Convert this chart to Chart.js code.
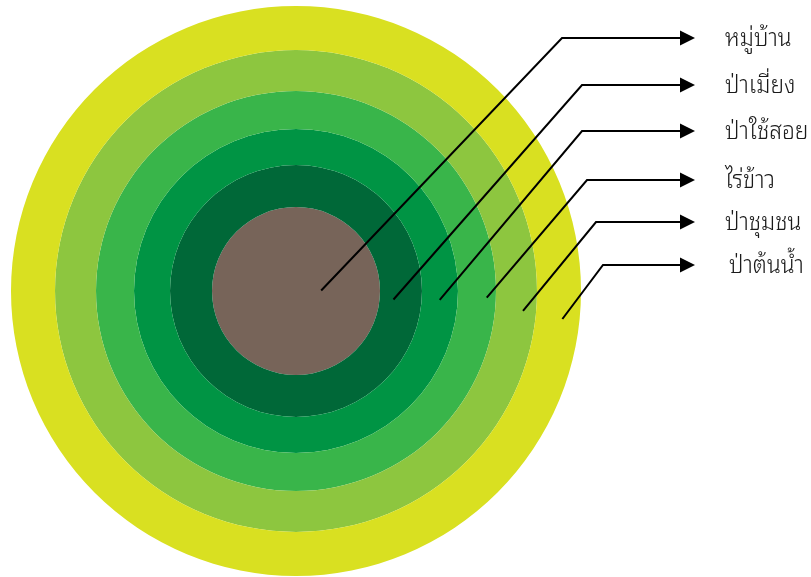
<!DOCTYPE html>
<html>
<head>
<meta charset="utf-8">
<script src="https://cdn.jsdelivr.net/npm/chart.js@4.4.0/dist/chart.umd.min.js"></script>
<style>
  html, body { margin: 0; padding: 0; background: #fff; }
  #wrap { width: 811px; height: 577px; position: relative; }
</style>
</head>
<body>
<div id="wrap"><canvas id="zoneChart"></canvas></div>
<script>
// zones, from the centre outwards (label order top to bottom)
const zoneLabels = ['หมู่บ้าน', 'ป่าเมี่ยง', 'ป่าใช้สอย', 'ไร่ข้าว', 'ป่าชุมชน', 'ป่าต้นน้ำ'];
// ring thickness of each zone, centre disk first
const zoneWidths = [84, 42, 36, 38, 41, 44];
const zoneColors = ['#776459', '#006838', '#009444', '#39b54a', '#8dc63f', '#d9e021'];

// doughnut draws the first dataset outermost, so build them in reverse
const datasets = zoneLabels.map((label, i) => ({
    label: label,
    data: [1],
    weight: zoneWidths[i],
    backgroundColor: zoneColors[i],
    borderWidth: 0,
    hoverOffset: 0
})).reverse();

// leader lines from each ring to its label
const leaderPlugin = {
    id: 'leaders',
    afterDraw(chart, args, opts) {
        const ctx = chart.ctx;
        const n = zoneLabels.length;
        ctx.save();
        zoneLabels.forEach((label, i) => {
            const arc = chart.getDatasetMeta(n - 1 - i).data[0];
            const r = arc.innerRadius + (arc.outerRadius - arc.innerRadius) * opts.anchorFrac[i];
            const a = opts.anchorAngle[i] * Math.PI / 180;
            const sx = arc.x + r * Math.cos(a);
            const sy = arc.y + r * Math.sin(a);
            const ey = opts.rowY[i];
            const ex = opts.elbowX[i];

            ctx.strokeStyle = '#000';
            ctx.lineWidth = 2;
            ctx.beginPath();
            ctx.moveTo(sx, sy);
            ctx.lineTo(ex, ey);
            ctx.lineTo(opts.arrowX - 14, ey);
            ctx.stroke();

            // arrow head
            ctx.fillStyle = '#000';
            ctx.beginPath();
            ctx.moveTo(opts.arrowX - 15, ey - 7.5);
            ctx.lineTo(opts.arrowX, ey);
            ctx.lineTo(opts.arrowX - 15, ey + 7.5);
            ctx.closePath();
            ctx.fill();

            // label, slightly condensed like the original face
            ctx.save();
            ctx.translate(opts.textX + (i === n - 1 ? 4 : 0), ey + 1);
            ctx.scale(0.95, 1);
            ctx.fillStyle = '#1a1a1a';
            ctx.font = '300 24px "Noto Sans Thai Looped", "Noto Sans Thai", sans-serif';
            ctx.textBaseline = 'middle';
            ctx.textAlign = 'left';
            ctx.fillText(label, 0, 0);
            ctx.restore();
        });
        ctx.restore();
    }
};

new Chart(document.getElementById('zoneChart'), {
    type: 'doughnut',
    data: {
        labels: ['zone'],
        datasets: datasets
    },
    options: {
        responsive: true,
        maintainAspectRatio: false,
        animation: false,
        events: [],
        cutout: 0,
        layout: {
            padding: { left: 11, right: 230, top: 6, bottom: 1 }
        },
        plugins: {
            legend: { display: false },
            tooltip: { enabled: false },
            leaders: {
                anchorFrac: [0.3, 0.33, 0.5, 0.76, 0.68, 0.61],
                anchorAngle: [-1, 5, 3.5, 2, 5, 6],
                rowY: [38, 85, 131, 180, 222, 265],
                elbowX: [562, 582, 582, 587, 596, 603],
                arrowX: 695,
                textX: 725
            }
        }
    },
    plugins: [leaderPlugin]
});
</script>
</body>
</html>
